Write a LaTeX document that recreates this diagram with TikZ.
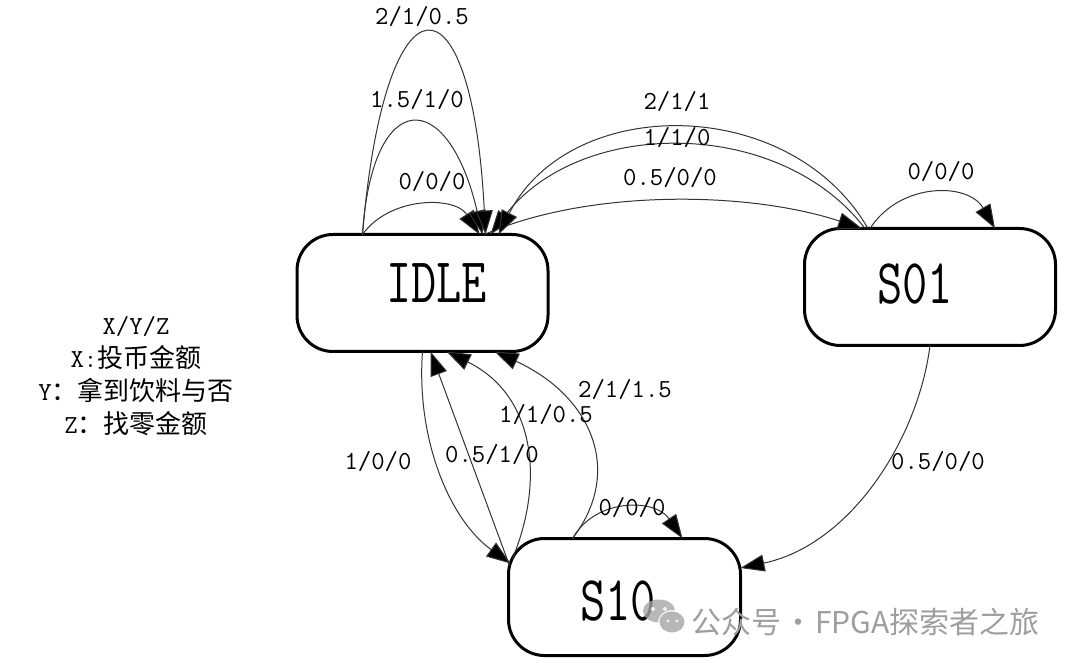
\documentclass[tikz,border=0pt]{standalone}
\usepackage{fontspec}
\newfontfamily\cjk{Noto Sans CJK SC}
\usetikzlibrary{arrows.meta,calc}
\begin{document}
\begin{tikzpicture}[x=1pt,y=-1pt,
  state/.style={draw, line width=3pt, rounded corners=36pt, minimum height=117pt,
    outer sep=0pt, inner sep=0pt},
  statetext/.style={inner sep=0pt, font=\ttfamily\fontsize{49}{55}\selectfont},
  edge/.style={line width=1pt, draw=black!80, -{Triangle[length=24pt,width=17pt,fill=black]}},
  lbl/.style={font=\ttfamily\fontsize{26}{30}\selectfont, inner sep=0pt, text=black},
]
\useasboundingbox (0,0) rectangle (1080,663);

% states
\node[state, minimum width=251pt] (idle) at (422.5,293) {};
\node[state, minimum width=251pt] (s01) at (930,287) {};
\node[state, minimum width=232pt] (s10) at (624.5,597) {};
\node[statetext] (idleT) at (436.5,283) {\scalebox{1}[1.3]{IDLE}};
\node[statetext] (s01T) at (915,284) {\scalebox{1}[1.3]{S01}};
\node[statetext] (s10T) at (618,601) {\scalebox{1}[1.3]{S10}};

% IDLE self loops
\draw[edge] ($(idle.north)+(-60,0)$) .. controls (390,196) and (455,196) .. ($(idle.north)+(57,0)$);
\draw[edge] ($(idle.north)+(-60,0)$) .. controls (372,86) and (448,86) .. ($(idle.north)+(60,0)$);
\draw[edge] ($(idle.north)+(-60,0)$) .. controls (385,-34) and (472,-34) .. ($(idle.north)+(63,0)$);
\node[lbl] (li0) at (432,182) {0/0/0};
\node[lbl] (li1) at (417,100) {1.5/1/0};
\node[lbl] (li2) at (422,17) {2/1/0.5};

% IDLE <-> S01
\draw[edge] ($(idle.north)+(62,0)$) .. controls (585,190) and (745,190) .. ($(s01.north)+(-68,0)$);
\draw[edge] ($(s01.north)+(-65,0)$) .. controls (780,117) and (580,117) .. ($(idle.north)+(68,0)$);
\draw[edge] ($(s01.north)+(-62,0)$) .. controls (790,94) and (570,94) .. ($(idle.north)+(76,0)$);
\node[lbl] (la) at (677,102) {2/1/1};
\node[lbl] (lb) at (677,138) {1/1/0};
\node[lbl] (lc) at (670,178) {0.5/0/0};

% S01 self loop
\draw[edge] ($(s01.north)+(-60,0)$) .. controls (900,182) and (968,182) .. ($(s01.north)+(65,0)$);
\node[lbl] (ls01) at (941,172) {0/0/0};

% S01 -> S10
\draw[edge] (s01.south) .. controls (918,440) and (850,545) .. ($(s10.east)+(0,-29)$);
\node[lbl] (ld) at (938,462) {0.5/0/0};

% IDLE <-> S10
\draw[edge] (idle.south) .. controls (416,440) and (450,520) .. ($(s10.north west)+(2,25)$);
\draw[edge] ($(s10.north west)+(1,27)$) -- ($(idle.south)+(8,0)$);
\draw[edge] ($(s10.north west)+(4,20)$) .. controls (545,480) and (535,395) .. ($(idle.south)+(24,0)$);
\draw[edge] ($(s10.north)+(-52,0)$) .. controls (625,470) and (590,395) .. ($(idle.south)+(72,0)$);
\node[lbl] (le) at (378,462) {1/0/0};
\node[lbl] (lf) at (492,455) {0.5/1/0};
\node[lbl] (lg) at (546,415) {1/1/0.5};
\node[lbl] (lh) at (625,390) {2/1/1.5};

% S10 self loop
\draw[edge] ($(s10.north)+(-52,0)$) .. controls (595,498) and (655,498) .. ($(s10.north)+(58,0)$);
\node[lbl] (ls10) at (632,508) {0/0/0};

% legend
\node[align=center, inner sep=0pt, text=black, font=\ttfamily\fontsize{26}{33}\selectfont] (legend) at (136,376)
  {X/Y/Z\\X:{\cjk 投币金额}\\Y{\cjk ：拿到饮料与否}\\Z{\cjk ：找零金额}};

% watermark
\begin{scope}[opacity=0.8]
\fill[black!35] (659,611) ellipse [x radius=16pt, y radius=11.5pt];
\fill[white] (672,622) ellipse [x radius=14pt, y radius=12pt];
\fill[black!35] (672,622) ellipse [x radius=12.5pt, y radius=10.5pt];
\fill[white] (653,609) circle [radius=2pt] (665,609) circle [radius=2pt]
  (668,621) circle [radius=1.7pt] (677,621) circle [radius=1.7pt];
\end{scope}
\node[anchor=west, inner sep=0pt, text=black!38, font=\cjk\fontsize{30}{32}\selectfont] (wm) at (691,622)
  {公众号\hspace{2pt}·\hspace{2pt}FPGA探索者之旅};
\end{tikzpicture}
\end{document}
